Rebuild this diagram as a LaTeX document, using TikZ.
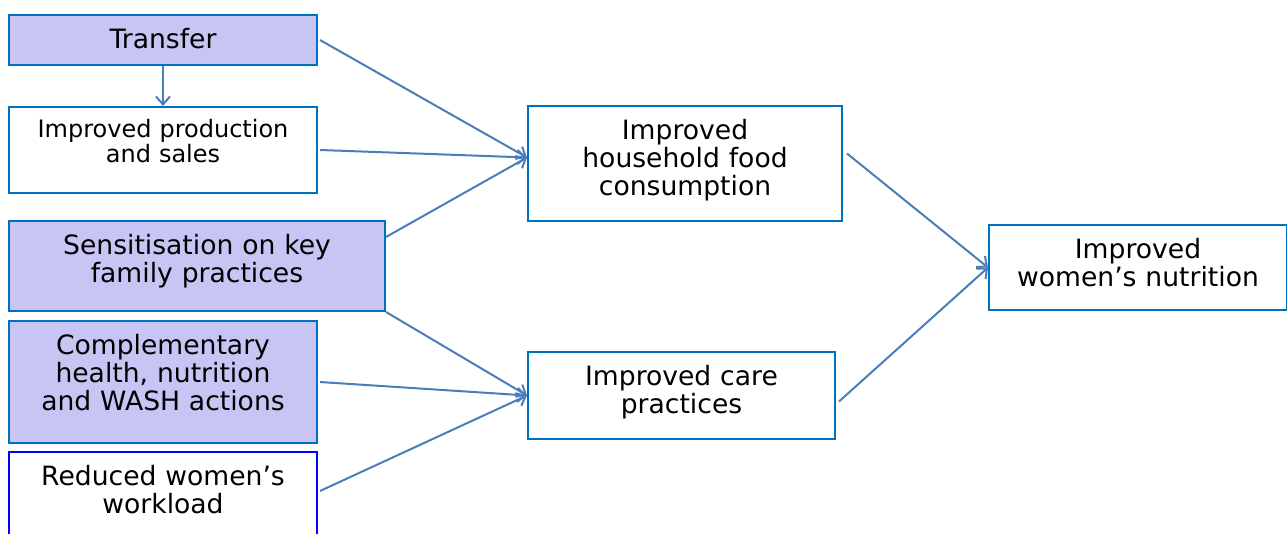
\documentclass[tikz,border=0pt]{standalone}
\usepackage{fontspec}
\setmainfont{DejaVu Sans}
\usetikzlibrary{arrows.meta}
\definecolor{boxblue}{RGB}{0,112,192}
\definecolor{actfill}{RGB}{200,196,244}
\definecolor{linkblue}{RGB}{74,126,187}
\newcommand\boxfont{\fontsize{13.3}{14}\selectfont}
\newcommand\smallboxfont{\fontsize{12}{12.5}\selectfont}
\begin{document}
\begin{tikzpicture}[x=0.5pt, y=-0.5pt,
        box/.style = {draw=boxblue, line width=1pt, anchor=north west, align=center,
                      inner sep=0pt, text height=17pt, font=\boxfont},
        act/.style = {box, fill=actfill},
        link/.style = {draw=linkblue, line width=1pt, -{Straight Barb[length=4pt, width=7pt]}}]
    \useasboundingbox (0,0) rectangle (1287,534);
    % left column
    \node[act, text width=154pt, text depth=8pt] (transfer) at (8,14) {Transfer};
    \node[box, text width=154pt, text height=15.5pt, text depth=27.5pt, font=\smallboxfont] (prod) at (8,106) {Improved production\\and sales};
    \node[act, text width=188pt, text depth=28pt] (sens) at (8,220) {Sensitisation on key\\family practices};
    \node[act, text width=154pt, text depth=44pt] (comp) at (8,320) {Complementary\\health, nutrition\\and WASH actions};
    \node[box, draw=blue, text width=154pt, text depth=33pt] (work) at (8,451) {Reduced women’s\\workload};
    % middle and right
    \node[box, text width=157pt, text depth=40.5pt] (food) at (527,105) {Improved\\household food\\consumption};
    \node[box, text width=153.5pt, text depth=26.5pt] (care) at (527,351) {Improved care\\practices};
    \node[box, text width=149pt, text depth=25.5pt] (nutr) at (988,224) {Improved\\women’s nutrition};
    % links
    \coordinate (food-in) at ([yshift=3pt]food.west);
    \coordinate (nutr-in) at (nutr.west);
    \draw[link] (transfer.south) -- (prod.north);
    \draw[link] ([xshift=1pt]transfer.east) -- (food-in);
    \draw[link] ([xshift=1pt]prod.east) -- (food-in);
    \draw[link] ([yshift=-8.5pt]sens.north east) -- (food-in);
    \draw[link] (sens.south east) -- (care.west);
    \draw[link] ([xshift=1pt]comp.east) -- (care.west);
    \draw[link] ([xshift=1pt, yshift=-20pt]work.north east) -- (care.west);
    \draw[link] ([xshift=2pt, yshift=5pt]food.east) -- (nutr-in);
    \draw[link] ([xshift=1.5pt, yshift=-3pt]care.east) -- (nutr-in);
\end{tikzpicture}
\end{document}
